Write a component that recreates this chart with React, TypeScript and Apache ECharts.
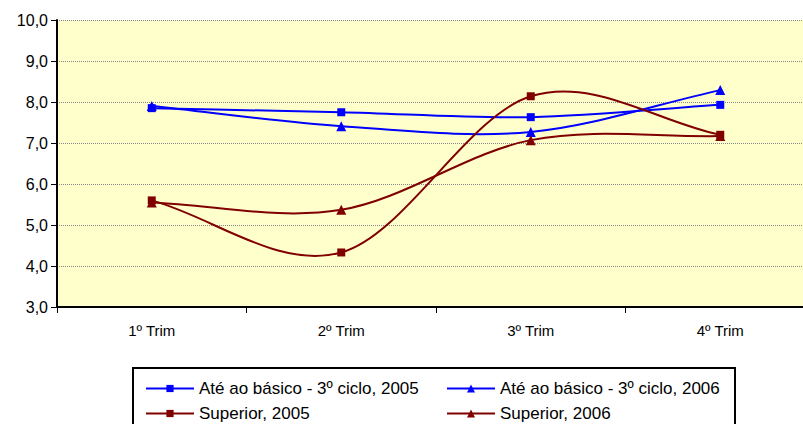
import React, { useEffect, useRef } from "react";
import * as echarts from "echarts";

const categories = ["1º Trim", "2º Trim", "3º Trim", "4º Trim"];
const ateBasico2005 = [7.85, 7.75, 7.63, 7.93];
const ateBasico2006 = [7.9, 7.41, 7.27, 8.29];
const superior2005 = [5.6, 4.33, 8.14, 7.2];
const superior2006 = [5.55, 5.37, 7.07, 7.17];

const names = [
  "Até ao básico - 3º ciclo, 2005",
  "Até ao básico - 3º ciclo, 2006",
  "Superior, 2005",
  "Superior, 2006",
];

export default function App() {
  const ref = useRef<HTMLDivElement>(null);
  useEffect(() => {
    const chart = echarts.init(ref.current!, null, { renderer: "svg" });
    const font = "'Liberation Sans', Arial, sans-serif";

    // Excel-like smoothed curve (Catmull-Rom through the points, computed in pixel space)
    const curve = (data: number[], color: string) => ({
      type: "custom",
      name: "_curve",
      z: 2,
      silent: true,
      data: data.map((v, i) => [i, v]),
      renderItem: (params: any, api: any) => {
        if (params.dataIndex !== 0) return null;
        const pts = data.map((v, i) => api.coord([i, v]));
        const n = pts.length;
        let d = `M${pts[0][0]},${pts[0][1]}`;
        for (let i = 0; i < n - 1; i++) {
          const p0 = pts[Math.max(0, i - 1)];
          const p1 = pts[i];
          const p2 = pts[i + 1];
          const p3 = pts[Math.min(n - 1, i + 2)];
          const f0 = i === 0 ? 1 / 3 : 1 / 6;
          const f1 = i + 1 === n - 1 ? 1 / 3 : 1 / 6;
          const c1x = p1[0] + (p2[0] - p0[0]) * f0;
          const c1y = p1[1] + (p2[1] - p0[1]) * f0;
          const c2x = p2[0] - (p3[0] - p1[0]) * f1;
          const c2y = p2[1] - (p3[1] - p1[1]) * f1;
          d += ` C${c1x},${c1y} ${c2x},${c2y} ${p2[0]},${p2[1]}`;
        }
        return {
          type: "path",
          shape: { pathData: d },
          style: { stroke: color, lineWidth: 2, fill: "none" },
        };
      },
    });

    const mk = (name: string, data: number[], color: string, symbol: string, size: number) => ({
      name,
      type: "line",
      data,
      symbol,
      symbolSize: size,
      showSymbol: true,
      lineStyle: { color, width: 0, opacity: 0 },
      itemStyle: { color },
      z: 3,
    });
    const legendText = { fontSize: 17, fontFamily: font, color: "#000" };
    const lItem = (name: string, color: string) => ({
      name,
      lineStyle: { color, width: 2, opacity: 1 },
    });
    chart.setOption({
      animation: false,
      textStyle: { fontFamily: font },
      grid: {
        left: 57,
        top: 20,
        width: 758,
        height: 287,
        outerBoundsMode: "none",
        containLabel: false,
        backgroundColor: "#FFFFCC",
        show: true,
        borderWidth: 0,
      },
      xAxis: {
        type: "category",
        data: categories,
        boundaryGap: true,
        axisLine: { lineStyle: { color: "#000", width: 2 } },
        axisTick: { show: true, length: 6, lineStyle: { color: "#000", width: 1 } },
        axisLabel: { color: "#000", fontSize: 15, fontFamily: font, margin: 16 },
      },
      yAxis: {
        type: "value",
        min: 3,
        max: 10,
        interval: 1,
        axisLine: { show: true, lineStyle: { color: "#000", width: 2 } },
        axisTick: { show: true, length: 6, lineStyle: { color: "#000" } },
        axisLabel: {
          color: "#000",
          fontSize: 16,
          fontFamily: font,
          margin: 9,
          formatter: (v: number) => v.toFixed(1).replace(".", ","),
        },
        splitLine: { show: true, lineStyle: { color: "#888", type: "dotted", width: 1 } },
      },
      legend: [
        {
          data: [lItem(names[0], "#0000FF"), lItem(names[2], "#800000")],
          orient: "vertical",
          left: 140,
          top: 375,
          height: 80,
          itemGap: 8,
          itemWidth: 48,
          itemHeight: 9,
          textStyle: legendText,
        },
        {
          data: [lItem(names[1], "#0000FF"), lItem(names[3], "#800000")],
          orient: "vertical",
          left: 441,
          top: 375,
          height: 80,
          itemGap: 8,
          itemWidth: 48,
          itemHeight: 10,
          textStyle: legendText,
        },
      ],
      graphic: [
        {
          type: "rect",
          shape: { x: 133, y: 368, width: 602, height: 70 },
          style: { fill: "#fff", stroke: "#000", lineWidth: 2 },
          z: -1,
        },
      ],
      series: [
        curve(ateBasico2005, "#0000FF"),
        curve(ateBasico2006, "#0000FF"),
        curve(superior2005, "#800000"),
        curve(superior2006, "#800000"),
        mk(names[0], ateBasico2005, "#0000FF", "rect", 8),
        mk(names[1], ateBasico2006, "#0000FF", "triangle", 10),
        mk(names[2], superior2005, "#800000", "rect", 8),
        mk(names[3], superior2006, "#800000", "triangle", 10),
      ],
    });
    return () => chart.dispose();
  }, []);
  return <div ref={ref} style={{ width: 803, height: 424, position: "absolute", left: 0, top: 0 }} />;
}
